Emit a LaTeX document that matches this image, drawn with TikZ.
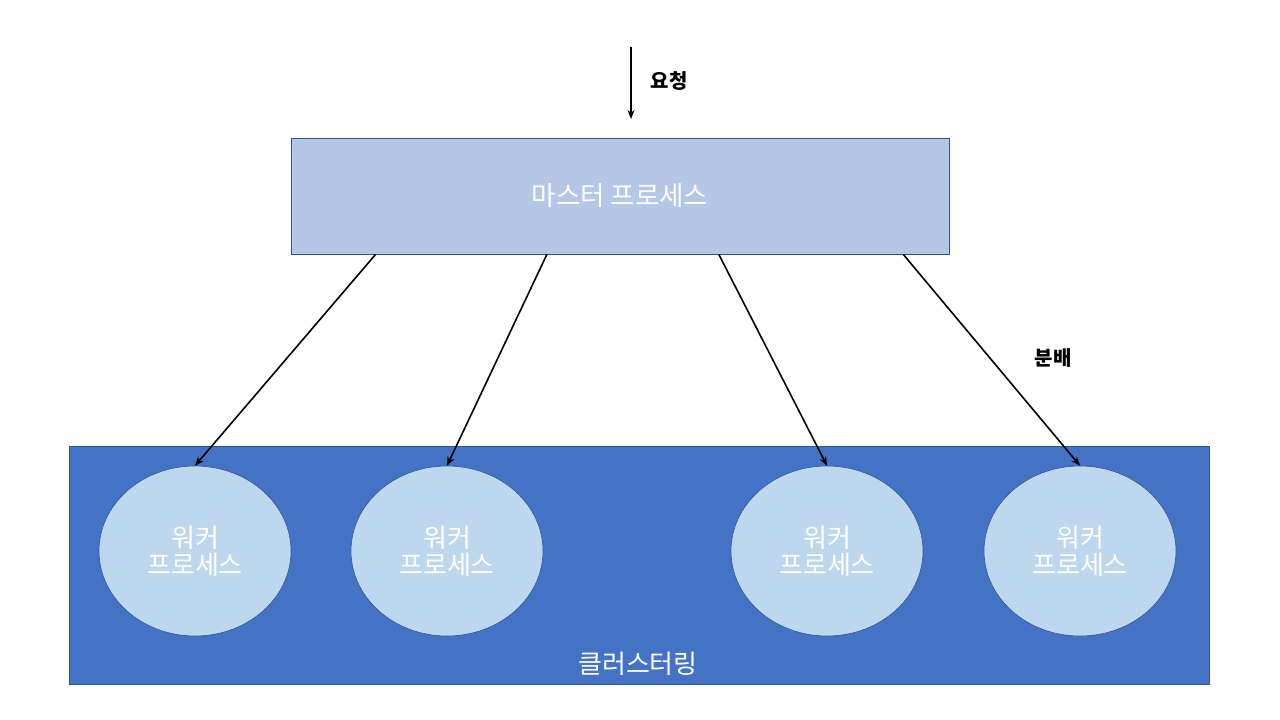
\documentclass[tikz,border=0pt]{standalone}
\usepackage{fontspec}
\setmainfont{Noto Sans CJK KR}
\usetikzlibrary{arrows.meta,calc,shapes.geometric}
\definecolor{masterfill}{HTML}{B4C7E7}
\definecolor{edgeblue}{HTML}{2F5597}
\definecolor{clusterfill}{HTML}{4472C4}
\definecolor{workerfill}{HTML}{BDD7EE}
\tikzset{
  masterbox/.style={draw=edgeblue, fill=masterfill, line width=0.8pt, minimum width=658pt, minimum height=116pt, inner sep=0pt, text=white, font=\fontsize{26.5}{30}\selectfont},
  clusterbox/.style={draw=edgeblue, fill=clusterfill, line width=0.8pt, minimum width=1140pt, minimum height=238pt, inner sep=0pt},
  worker/.style={ellipse, draw=edgeblue, fill=workerfill, line width=0.6pt, minimum width=192pt, minimum height=170pt, inner sep=0pt, text=white, align=center, font=\fontsize{26}{27}\selectfont},
  arr/.style={-{Stealth[length=9pt,width=7pt]}, line width=1.6pt, black},
  lbl/.style={font=\bfseries\fontsize{20}{24}\selectfont, text=black},
}
\begin{document}
\begin{tikzpicture}[x=1pt,y=-1pt]
\useasboundingbox (0,0) rectangle (1280,720);
\node[masterbox] (master) at (620,196) {마스터 프로세스};
\node[clusterbox] (cluster) at (639,565) {};
\node[text=white, font=\fontsize{26}{30}\selectfont] (clabel) at (638,664) {클러스터링};
\node[worker] (w1) at (195,551) {워커\\프로세스};
\node[worker] (w2) at (447,551) {워커\\프로세스};
\node[worker] (w3) at (827,551) {워커\\프로세스};
\node[worker] (w4) at (1080,551) {워커\\프로세스};
\coordinate (reqs) at (631,47);
\coordinate (reqe) at (631,119);
\draw[arr, line width=1.4pt] (reqs) -- (reqe);
\node[lbl] (reqlbl) at (669,81) {요청};
\draw[arr] ($(master.south west)!0.129!(master.south east)$) -- (w1.north);
\draw[arr] ($(master.south west)!0.389!(master.south east)$) -- (w2.north);
\draw[arr] ($(master.south west)!0.650!(master.south east)$) -- (w3.north);
\draw[arr] ($(master.south west)!0.930!(master.south east)$) -- (w4.north);
\node[lbl] (distlbl) at (1053,358) {분배};
\end{tikzpicture}
\end{document}
